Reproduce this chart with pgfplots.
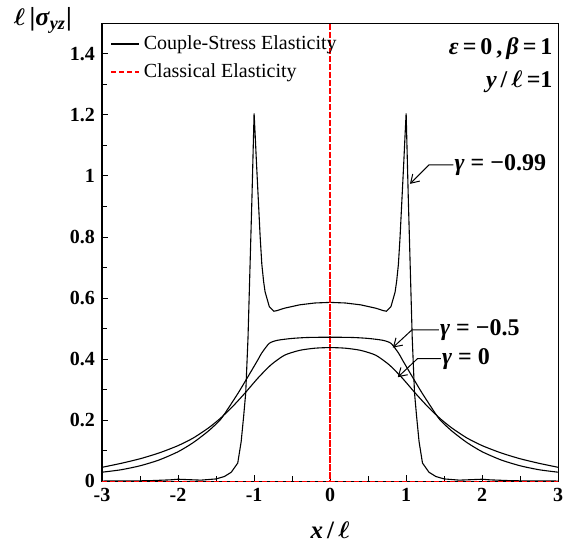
\documentclass[border=0pt]{standalone}
\usepackage{fontspec}
\setmainfont{Liberation Serif}
\usepackage{amsmath,bm}
\usepackage{pgfplots}
\pgfplotsset{compat=1.18}
\usetikzlibrary{arrows.meta}

\begin{document}
\begin{tikzpicture}
\begin{axis}[
  scale only axis,
  width=228pt, height=229pt,
  xmin=-3, xmax=3, ymin=0, ymax=1.5,
  xtick={-3,-2,-1,0,1,2,3},
  xticklabels={-3,-2,-1,0,1,2,3},
  minor xtick={-2.5,-1.5,-0.5,0.5,1.5,2.5},
  ytick={0,0.2,0.4,0.6,0.8,1,1.2,1.4},
  minor ytick={0.1,0.3,0.5,0.7,0.9,1.1,1.3},
  xtick pos=bottom, ytick pos=left,
  tick align=inside,
  major tick length=3pt, minor tick length=2.5pt,
  tick style={black, line width=0.5pt},
  axis line style={line width=0.6pt},
  /pgf/number format/assume math mode=true,
  ticklabel style={font=\bfseries\fontsize{10}{12}\selectfont},
  xlabel={\textbf{\textit{x}\,/\,$\boldsymbol{\ell}$}},
  xlabel style={at={(axis description cs:0.5,0)}, anchor=center, yshift=-24.5pt, font=\fontsize{12.5}{14}\selectfont},
  ylabel={$\boldsymbol{\ell}$\,\textbf{|}\textbf{\textit{σ}}\textsubscript{\textbf{\textit{yz}}}\textbf{|}},
  ylabel style={rotate=-90, at={(axis description cs:0,1)}, anchor=center, xshift=-29.6pt, yshift=1.5pt, font=\fontsize{13}{15}\selectfont},
  legend cell align=left,
  legend style={draw=none, fill=none, at={(axis description cs:0,1)}, anchor=north west,
    xshift=1pt, yshift=-2pt, font=\fontsize{10}{12}\selectfont, row sep=1.5pt},
  legend image code/.code={\draw[#1] (0pt,0pt) -- (14pt,0pt);},
]
\coordinate (bl) at (rel axis cs:0,0);
\coordinate (tr) at (rel axis cs:1,1);

% gamma = -0.99
\addplot[black, line width=0.55pt] coordinates {
(-3.0,0.001) (-2.4,0.002) (-2.1,0.005) (-2.0,0.007) (-1.9,0.006) (-1.7,0.004)
(-1.5,0.008) (-1.39,0.016) (-1.3,0.03) (-1.215,0.06) (-1.17,0.13) (-1.137,0.214)
(-1.11,0.29) (-1.09,0.41) (-1.08,0.47) (-1.063,0.62) (-1.028,0.93) (-1.0,1.205)
(-0.985,1.13) (-0.97,1.05) (-0.946,0.93) (-0.92,0.8) (-0.898,0.71) (-0.875,0.655)
(-0.855,0.62) (-0.8,0.572) (-0.74,0.557) (-0.7,0.559) (-0.6,0.567) (-0.4,0.578)
(-0.2,0.584) (0,0.586)
(0.2,0.584) (0.4,0.578) (0.6,0.567) (0.7,0.559) (0.74,0.557) (0.8,0.572)
(0.855,0.62) (0.875,0.655) (0.898,0.71) (0.92,0.8) (0.946,0.93) (0.97,1.05)
(0.985,1.13) (1.0,1.205)
(1.028,0.93) (1.063,0.62) (1.08,0.47) (1.09,0.41) (1.11,0.29) (1.137,0.214)
(1.17,0.13) (1.215,0.06) (1.3,0.03) (1.39,0.016) (1.5,0.008) (1.7,0.004)
(1.9,0.006) (2.0,0.007) (2.1,0.005) (2.4,0.002) (3.0,0.001)
};
\addlegendentry{Couple-Stress Elasticity}

\addplot[red, line width=0.7pt, dash pattern=on 2.6pt off 1.4pt] coordinates {
(-3,0) (0,0) (0,1.5) (0,0) (3,0)
};
\addlegendentry{Classical Elasticity}

% gamma = -0.5
\addplot[black, line width=0.55pt, smooth, tension=0.4, forget plot] coordinates {
(-3.0,0.030) (-2.75,0.038) (-2.5,0.051) (-2.25,0.070) (-2.0,0.097) (-1.8,0.127)
(-1.6,0.165) (-1.45,0.200) (-1.38,0.224) (-1.21,0.289) (-1.08,0.343) (-0.95,0.398)
(-0.9,0.42) (-0.8,0.452) (-0.69,0.462) (-0.5,0.468) (-0.3,0.471) (0,0.472)
(0.3,0.471) (0.5,0.468) (0.69,0.462) (0.8,0.452) (0.9,0.42) (0.95,0.398)
(1.08,0.343) (1.21,0.289) (1.38,0.224) (1.45,0.200) (1.6,0.165) (1.8,0.127)
(2.0,0.097) (2.25,0.070) (2.5,0.051) (2.75,0.038) (3.0,0.030)
};

% gamma = 0
\addplot[black, line width=0.55pt, smooth, tension=0.4, forget plot] coordinates {
(-3.0,0.046) (-2.75,0.059) (-2.5,0.074) (-2.25,0.093) (-2.0,0.117) (-1.8,0.142)
(-1.6,0.175) (-1.45,0.205) (-1.29,0.243) (-1.12,0.289) (-0.95,0.338) (-0.78,0.381)
(-0.6,0.413) (-0.4,0.429) (-0.2,0.436) (0,0.438)
(0.2,0.436) (0.4,0.429) (0.6,0.413) (0.78,0.381) (0.95,0.338) (1.12,0.289)
(1.29,0.243) (1.45,0.205) (1.6,0.175) (1.8,0.142) (2.0,0.117) (2.25,0.093)
(2.5,0.074) (2.75,0.059) (3.0,0.046)
};

% parameters
\node[anchor=east, inner sep=0pt, font=\bfseries\fontsize{12}{14}\selectfont] at (axis cs:2.93,1.417)
  {\textit{ε}\,=\,0\,,\,\textit{β}\,=\,1};
\node[anchor=east, inner sep=0pt, font=\bfseries\fontsize{12}{14}\selectfont] at (axis cs:2.93,1.307)
  {\textit{y}\,/\,$\boldsymbol{\ell}$\,=1};

% curve labels
\draw[line width=0.5pt, -{Straight Barb[length=4pt,width=5pt]}]
  (axis cs:1.62,1.036) -- (axis cs:1.30,1.036) -- (axis cs:1.05,0.974);
\node[anchor=west, inner sep=0.5pt, font=\bfseries\fontsize{12}{14}\selectfont] at (axis cs:1.62,1.036)
  {\textit{γ} = −0.99};
\draw[line width=0.5pt, -{Straight Barb[length=4pt,width=5pt]}]
  (axis cs:1.43,0.496) -- (axis cs:1.076,0.496) -- (axis cs:0.825,0.438);
\node[anchor=west, inner sep=0.5pt, font=\bfseries\fontsize{12}{14}\selectfont] at (axis cs:1.43,0.496)
  {\textit{γ} = −0.5};
\draw[line width=0.5pt, -{Straight Barb[length=4pt,width=5pt]}]
  (axis cs:1.456,0.402) -- (axis cs:1.15,0.402) -- (axis cs:0.89,0.341);
\node[anchor=west, inner sep=0.5pt, font=\bfseries\fontsize{12}{14}\selectfont] at (axis cs:1.456,0.402)
  {\textit{γ} = 0};
\end{axis}
\pgfresetboundingbox
\path[use as bounding box] ([xshift=-51pt,yshift=-34pt]bl) rectangle ([xshift=3.4pt,yshift=11.6pt]tr);
\end{tikzpicture}
\end{document}
